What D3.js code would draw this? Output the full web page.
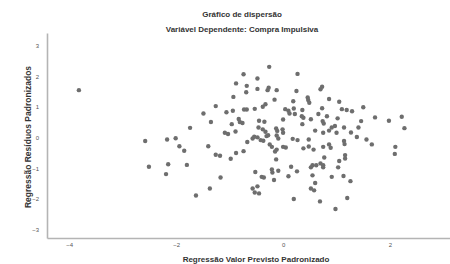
<!DOCTYPE html>
<html>
<head>
<meta charset="utf-8">
<script src="https://cdn.jsdelivr.net/npm/d3@7/dist/d3.min.js"></script>
<style>
  body { margin: 0; background: #fff; }
  svg { display: block; }
  text { font-family: "Liberation Sans", Arial, sans-serif; }
</style>
</head>
<body>
<svg id="chart" width="450" height="264"></svg>
<script>
// Data: [standardized predicted value, standardized residual]
const predicted = [-3.82,-2.58,-2.51,-2.17,-2.01,-1.94,-1.74,-1.49,-1.35,-1.26,-1.40,-1.06,-0.94,-0.93,-0.88,-0.74,-0.68,-0.69,-0.48,-0.26,0.27,-0.48,-0.29,-0.27,-0.12,-0.16,0.25,-0.73,-0.68,-0.53,-0.38,-0.33,-0.83,-0.81,-0.76,-0.96,-1.09,-1.03,-0.89,-0.45,-0.35,-0.46,-0.38,-0.33,-0.67,-0.57,-0.54,-0.48,-0.42,-0.37,-0.31,-0.28,-0.25,-0.21,-0.13,-0.11,-0.12,-0.09,-0.01,0.00,0.00,0.04,0.10,0.12,0.19,0.20,0.22,0.18,0.27,0.00,0.05,-1.85,-2.15,-2.19,-1.80,-1.26,-1.18,-0.98,-0.88,-0.74,-1.17,-1.37,-1.63,-0.15,-0.12,-0.13,-0.52,-0.40,-0.36,-0.21,-0.20,-0.09,-0.17,0.10,0.15,0.26,-0.57,-0.48,-0.53,-0.45,0.20,0.70,0.73,0.46,0.47,0.49,0.86,1.05,0.36,0.38,0.35,0.52,0.36,0.66,0.73,0.82,0.74,0.76,1.02,1.10,1.19,1.29,1.50,1.46,1.72,1.98,2.22,2.27,0.60,0.75,0.86,0.91,0.97,1.00,1.14,1.27,1.41,1.38,1.56,1.66,0.48,0.38,0.48,0.57,0.75,0.86,0.89,1.14,1.15,2.10,2.09,0.77,0.52,0.55,0.62,0.70,0.75,0.75,1.05,1.16,1.16,1.03,0.55,0.60,0.52,0.58,0.91,1.13,1.26,0.69,1.20,0.98];
const residual = [1.55,-0.11,-0.95,-0.06,-0.02,-0.28,0.32,0.79,0.51,1.03,-0.28,0.83,0.88,1.33,1.77,2.07,1.69,1.48,1.93,2.31,2.08,1.59,1.55,1.63,1.55,1.24,1.52,0.92,0.92,0.94,1.01,1.09,0.61,0.51,0.48,0.44,0.16,0.12,0.20,0.55,0.52,0.33,0.27,0.19,-0.14,-0.03,0.03,0.01,-0.08,-0.10,0.05,0.08,-0.22,-0.30,0.30,0.22,0.07,-0.03,0.27,0.16,0.59,0.93,0.88,0.79,1.19,0.95,0.77,-0.04,-0.08,-0.30,-0.32,-0.43,-0.87,-1.19,-0.89,-0.56,-0.59,-0.69,-0.50,-0.44,-1.30,-1.66,-1.89,-0.45,-0.39,-0.71,-1.12,-1.28,-1.30,-1.04,-1.14,-1.08,-1.38,-1.26,-0.95,-1.10,-1.66,-1.59,-1.79,-1.82,-2.00,1.58,1.66,1.31,1.23,1.14,1.26,1.17,0.90,0.65,0.70,0.60,0.44,0.77,0.96,0.70,0.54,0.46,0.63,0.93,0.90,0.86,0.99,0.54,0.66,0.55,0.68,0.31,0.23,0.16,0.23,0.33,0.38,0.16,0.33,0.17,0.33,0.02,-0.06,-0.22,-0.06,-0.35,-0.29,-0.39,-0.30,-0.22,-0.33,-0.11,-0.21,-0.30,-0.53,-0.65,-0.97,-0.90,-0.90,-0.84,-0.90,-0.97,-0.76,-0.57,-0.68,-0.97,-1.23,-1.48,-1.66,-1.72,-1.28,-1.25,-1.42,-2.08,-1.97,-2.33];
const xTicks = [-4, -2, 0, 2];
const yTicks = [-3, -2, -1, 0, 1, 2, 3];
const titleText = "Gráfico de dispersão";
const subtitleText = "Variável Dependente: Compra Impulsiva";
const xLabel = "Regressão Valor Previsto Padronizado";
const yLabel = "Regressão Resíduos Padronizados";

const svg = d3.select("#chart");
const mLeft = 47, mRight = 452, mTop = 33, mBottom = 238;

const x = d3.scaleLinear().domain([-4.417, 3.16]).range([mLeft, mRight]);
const y = d3.scaleLinear().domain([-3.275, 3.415]).range([mBottom, mTop]);

// Axes
const xAxis = d3.axisBottom(x).tickValues(xTicks).tickSize(0).tickPadding(5).tickFormat(d3.format("d"));
const yAxis = d3.axisLeft(y).tickValues(yTicks).tickSize(0).tickPadding(8).tickFormat(d3.format("d"));

const gx = svg.append("g").attr("transform", `translate(0,${mBottom})`).call(xAxis);
const gy = svg.append("g").attr("transform", `translate(${mLeft},0)`).call(yAxis);
[gx, gy].forEach(g => {
  g.select(".domain").attr("stroke", "#b4b4b4").attr("stroke-width", 1.6);
  g.selectAll("text").attr("fill", "#555").style("font-size", "6px")
    .style("font-family", "'Liberation Sans', Arial, sans-serif");
});

// Points
const pts = predicted.map((p, i) => [p, residual[i]]);
svg.append("g").selectAll("circle").data(pts).join("circle")
  .attr("cx", d => x(d[0])).attr("cy", d => y(d[1]))
  .attr("r", 2.2).attr("fill", "#6e6e6e");

// Titles
svg.append("text").attr("x", 242).attr("y", 17).attr("text-anchor", "middle")
  .style("font-size", "8px").style("font-weight", "bold").attr("fill", "#333").text(titleText);
svg.append("text").attr("x", 242).attr("y", 32).attr("text-anchor", "middle")
  .style("font-size", "8px").style("font-weight", "bold").attr("fill", "#333").text(subtitleText);
svg.append("text").attr("x", 256).attr("y", 262).attr("text-anchor", "middle")
  .style("font-size", "8px").style("font-weight", "bold").attr("fill", "#333").text(xLabel);
svg.append("text").attr("transform", "translate(31,137) rotate(-90)").attr("text-anchor", "middle")
  .style("font-size", "8.5px").style("font-weight", "bold").attr("fill", "#333").text(yLabel);
</script>
</body>
</html>
